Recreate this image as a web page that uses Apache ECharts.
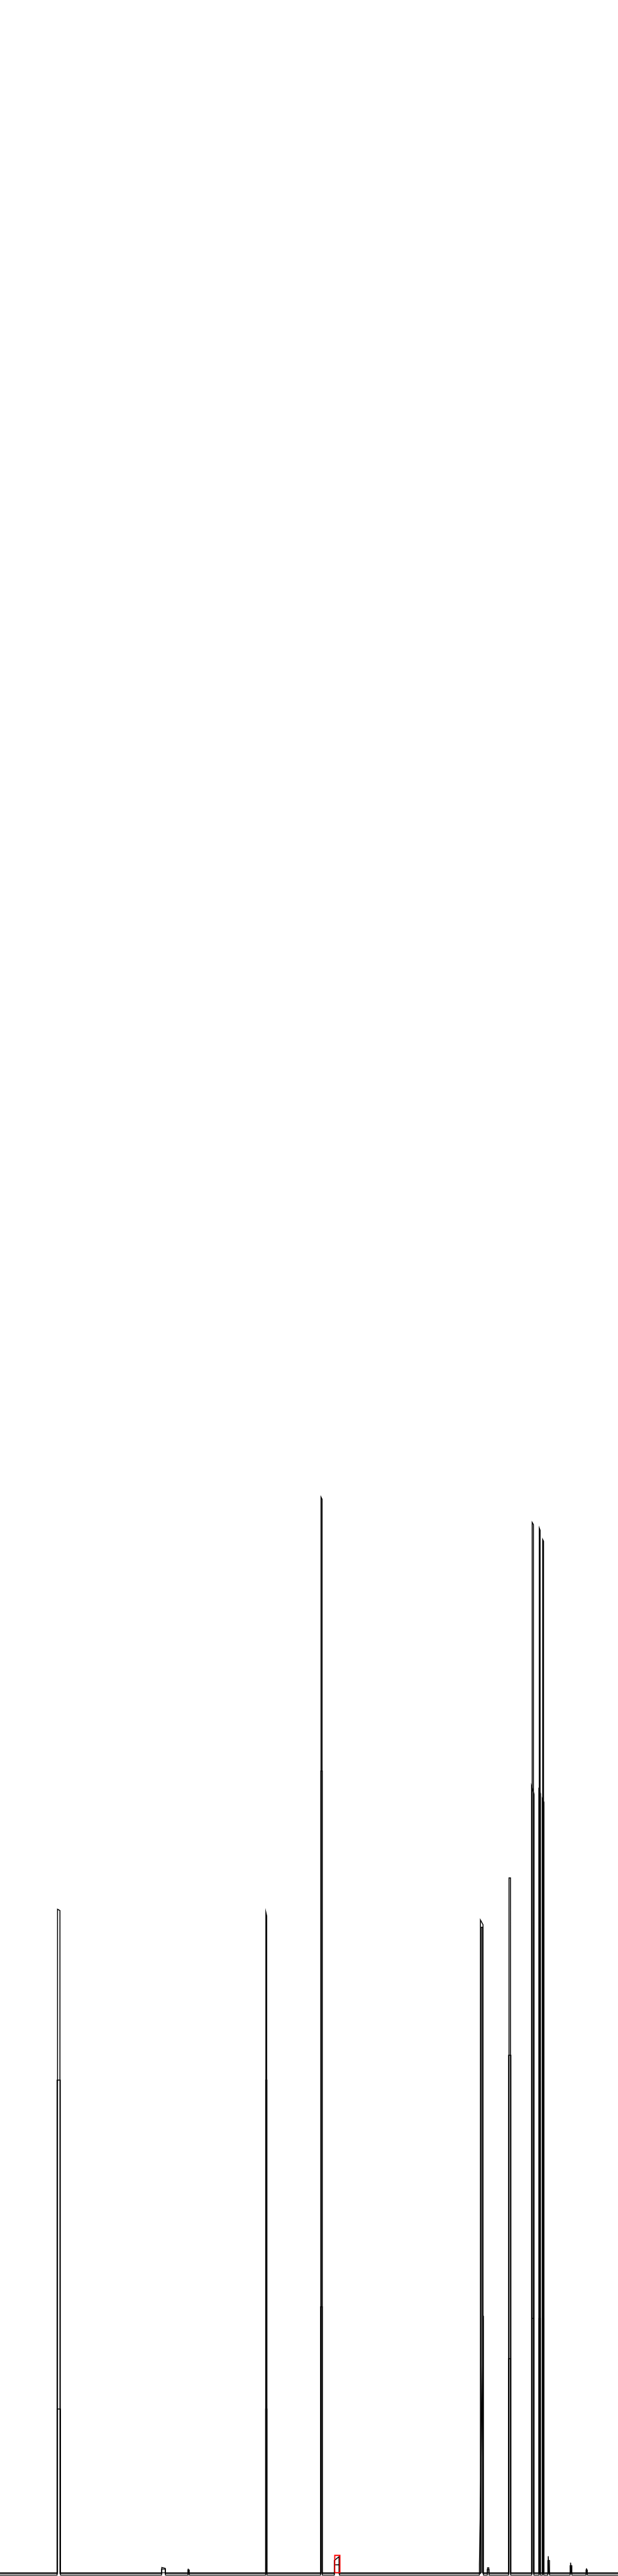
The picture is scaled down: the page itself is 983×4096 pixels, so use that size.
<!DOCTYPE html>
<html>
<head>
<meta charset="utf-8">
<script src="https://cdn.jsdelivr.net/npm/echarts@6/dist/echarts.min.js"></script>
<style>
html,body{margin:0;padding:0;background:#fff;}
#chart{width:983px;height:4096px;}
</style>
</head>
<body>
<div id="chart"></div>
<script>
// Retention axis range and signal range (arbitrary units)
const xRange = [0, 1440];
const yRange = [-6, 5994];

// Trace A (main trace, baseline 0): peak stroke positions and heights
const aBase = 0;
const aLeftX  = [134, 377, 438.5, 619.5, 748, 779, 1119.5, 1136, 1186, 1240, 1256.5, 1264.5, 1277.5, 1329.5, 1366.5];
const aRightX = [139.7, 385, 440.5, 621.5, 750.5, 790, 1125.5, 1139, 1189.5, 1243, 1258.5, 1266.5, 1279.5, 1331.5, 1367.5];
const aLeftH  = [1547, 14, 11, 1540, 2507, 30, 1522, 13, 1620, 2448, 2435, 2408, 40, 25, 12];
const aRightH = [1544, 12, 9, 1531, 2502, 39, 1511, 13, 1620, 2443, 2430, 2404, 40, 25, 10];

// Trace B (overlay, baseline 1.5)
const bBase = 1.5;
const bLeftX  = [133, 619, 747.5, 1121, 1185, 1238.5, 1255.5, 1263.5];
const bRightX = [140.5, 622, 751, 1124, 1190.5, 1244.5, 1259.5, 1267.5];
const bLeftH  = [1149, 1149, 1869, 1505, 1207, 1835, 1826, 1805];
const bRightH = [1149, 1149, 1869, 1505, 1207, 1815, 1816, 1796];

// Trace C (overlay, baseline -4)
const cBase = -4;
const cLeftX  = [133, 376.5, 438, 619, 747, 779, 1117, 1135.5, 1185, 1239, 1256, 1264, 1276.5, 1328.5, 1365.5];
const cRightX = [141, 385.5, 441, 622, 751, 791, 1126.5, 1139.5, 1190, 1244, 1259, 1267, 1280.5, 1332.5, 1368.5];
const cLeftH  = [383, 10, 8, 383, 621, 20, 22, 9, 500, 594, 594, 594, 30, 18, 8];
const cRightH = [383, 10, 8, 383, 621, 20, 600, 9, 500, 594, 594, 594, 30, 18, 8];

// Highlighted (red) peak window
const redX = [780, 780, 792, 792, 780];
const redY = [2, 42, 42, 2, 2];

function buildTrace(base, lx, rx, lh, rh) {
  const pts = [[xRange[0], base]];
  for (let i = 0; i < lx.length; i++) {
    pts.push([lx[i], base]);
    pts.push([lx[i], lh[i]]);
    pts.push([rx[i], rh[i]]);
    pts.push([rx[i], base]);
  }
  pts.push([xRange[1], base]);
  return pts;
}

const chart = echarts.init(document.getElementById('chart'), null, {renderer: 'canvas'});
const lineCommon = {
  type: 'line',
  showSymbol: false,
  symbol: 'none',
  smooth: false,
  animation: false,
  silent: true
};
chart.setOption({
  backgroundColor: '#ffffff',
  animation: false,
  grid: {left: 0, right: 0, top: 0, bottom: 0, containLabel: false},
  xAxis: {
    type: 'value', min: xRange[0], max: xRange[1],
    show: false
  },
  yAxis: {
    type: 'value', min: yRange[0], max: yRange[1],
    show: false
  },
  series: [
    Object.assign({}, lineCommon, {
      name: 'C', z: 2,
      data: buildTrace(cBase, cLeftX, cRightX, cLeftH, cRightH),
      lineStyle: {color: '#000000', width: 1.4, join: 'miter'}
    }),
    Object.assign({}, lineCommon, {
      name: 'B', z: 3,
      data: buildTrace(bBase, bLeftX, bRightX, bLeftH, bRightH),
      lineStyle: {color: '#000000', width: 1.4, join: 'miter'}
    }),
    Object.assign({}, lineCommon, {
      name: 'A', z: 4,
      data: buildTrace(aBase, aLeftX, aRightX, aLeftH, aRightH),
      lineStyle: {color: '#000000', width: 1.5, join: 'miter'}
    }),
    Object.assign({}, lineCommon, {
      name: 'highlight', z: 5,
      data: redX.map((x, i) => [x, redY[i]]),
      lineStyle: {color: '#ff0000', width: 1.8, join: 'miter'}
    })
  ]
});
</script>
</body>
</html>
